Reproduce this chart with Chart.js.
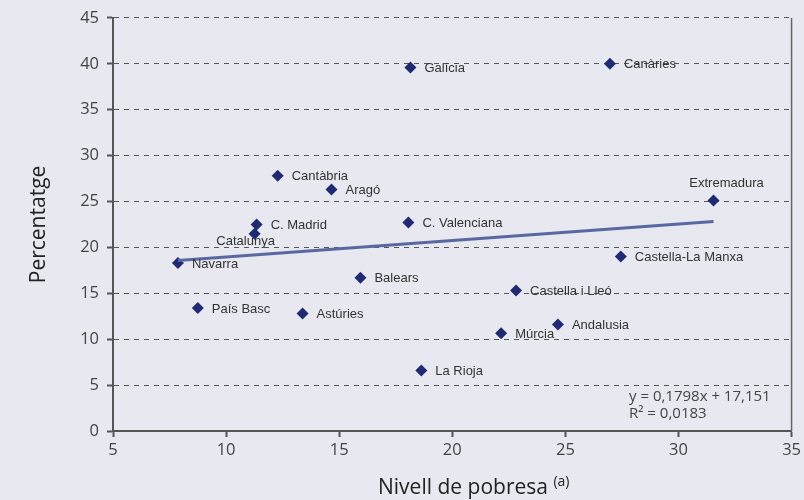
<!DOCTYPE html>
<html>
<head>
<meta charset="utf-8">
<script src="https://cdn.jsdelivr.net/npm/chart.js@4"></script>
<style>
  html, body { margin: 0; padding: 0; background: #e8e8f0; }
  #wrap { width: 804px; height: 500px; }
</style>
</head>
<body>
<div id="wrap"><canvas id="myChart" width="804" height="500"></canvas></div>
<script>
// regions and their values (x: nivell de pobresa, y: percentatge)
const regions = ["Galícia", "Canàries", "Cantàbria", "Aragó", "C. Madrid", "Catalunya",
  "C. Valenciana", "Extremadura", "Navarra", "Balears", "Castella-La Manxa",
  "Castella i Lleó", "País Basc", "Astúries", "Andalusia", "Múrcia", "La Rioja"]
const poverty = [18.15, 26.97, 12.28, 14.66, 11.35, 11.26, 18.06, 31.55, 7.87, 15.94, 27.45,
  22.82, 8.75, 13.38, 24.67, 22.16, 18.63]
const percent = [39.6, 40.0, 27.8, 26.3, 22.5, 21.5, 22.7, 25.1, 18.3, 16.7, 19.0,
  15.3, 13.4, 12.8, 11.6, 10.65, 6.6]

// trend line from the equation shown on the chart
const trendSlope = 0.1798
const trendIntercept = 17.151
const trendText = ["y = 0,1798x + 17,151", "R² = 0,0183"]

// where each label goes relative to its point
const labelSide = ["right", "right", "right", "right", "right", "below", "right", "above",
  "right", "right", "right", "right", "right", "right", "right", "right", "right"]

const points = poverty.map((x, i) => ({ x: x, y: percent[i] }))
const xMin = Math.min(...poverty)
const xMax = Math.max(...poverty)
const trend = [
  { x: xMin, y: trendSlope * xMin + trendIntercept },
  { x: xMax, y: trendSlope * xMax + trendIntercept }
]

const tickFont = "'Open Sans', 'DejaVu Sans', sans-serif"

const extras = {
  id: "extras",
  afterDatasetsDraw(chart) {
    const ctx = chart.ctx
    const area = chart.chartArea
    ctx.save()
    // right border of the plot
    ctx.strokeStyle = "#666"
    ctx.lineWidth = 1.5
    ctx.beginPath()
    ctx.moveTo(area.right, area.top)
    ctx.lineTo(area.right, area.bottom)
    ctx.stroke()

    // point labels
    const meta = chart.getDatasetMeta(1)
    ctx.fillStyle = "#333"
    ctx.font = "13px 'Liberation Sans', Arial, sans-serif"
    meta.data.forEach((pt, i) => {
      const side = labelSide[i]
      if (side === "above") {
        ctx.textAlign = "center"
        ctx.textBaseline = "middle"
        ctx.fillText(regions[i], pt.x + 13, pt.y - 17)
      } else if (side === "below") {
        ctx.textAlign = "center"
        ctx.textBaseline = "middle"
        ctx.fillText(regions[i], pt.x - 9, pt.y + 8)
      } else {
        ctx.textAlign = "left"
        ctx.textBaseline = "middle"
        ctx.fillText(regions[i], pt.x + 14, pt.y + 1)
      }
    })

    // equation
    ctx.fillStyle = "#444"
    ctx.font = "15px " + tickFont
    ctx.textAlign = "left"
    ctx.textBaseline = "alphabetic"
    ctx.fillText(trendText[0], 629, 401)
    ctx.fillText(trendText[1], 629, 418)

    // axis titles
    ctx.fillStyle = "#222"
    ctx.font = "21px " + tickFont
    ctx.save()
    ctx.translate(45, (area.top + area.bottom) / 2)
    ctx.rotate(-Math.PI / 2)
    ctx.textAlign = "center"
    ctx.textBaseline = "alphabetic"
    ctx.fillText("Percentatge", 0, 0)
    ctx.restore()

    ctx.textAlign = "left"
    ctx.fillText("Nivell de pobresa", 378, 494)
    const w = ctx.measureText("Nivell de pobresa ").width
    ctx.font = "14px " + tickFont
    ctx.fillText("(a)", 378 + w, 486)
    ctx.restore()
  }
}

const myChart = new Chart(document.getElementById("myChart").getContext("2d"), {
  type: "scatter",
  data: {
    datasets: [{
      type: "line",
      data: trend,
      borderColor: "#5a68a2",
      borderWidth: 3,
      pointRadius: 0,
      fill: false
    }, {
      data: points,
      pointStyle: "rectRot",
      pointRadius: 6,
      backgroundColor: "#1f2a72",
      borderColor: "#1f2a72",
      borderWidth: 0
    }]
  },
  options: {
    responsive: false,
    animation: false,
    layout: { padding: { top: 17, right: 11, left: 0, bottom: 0 } },
    plugins: {
      legend: { display: false },
      tooltip: { enabled: false }
    },
    scales: {
      x: {
        type: "linear",
        min: 5,
        max: 35,
        ticks: { stepSize: 5, color: "#444", font: { family: tickFont, size: 16.5 }, padding: 3 },
        grid: { drawOnChartArea: false, drawTicks: true, tickLength: 6, tickColor: "#555", tickWidth: 2 },
        border: { color: "#555", width: 2 },
        afterFit(scale) { scale.height = 69 }
      },
      y: {
        min: 0,
        max: 45,
        ticks: { stepSize: 5, color: "#444", font: { family: tickFont, size: 16.5 }, padding: 8 },
        grid: { color: "#555", lineWidth: 1, tickLength: 6, tickColor: "#555", tickWidth: 2, tickBorderDash: [] },
        border: { color: "#555", width: 2, dash: [5, 5] },
        afterFit(scale) { scale.width = 113 }
      }
    }
  },
  plugins: [extras]
})
</script>
</body>
</html>
